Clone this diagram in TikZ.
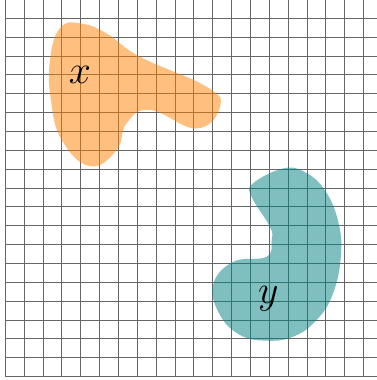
\documentclass[tikz,border=0pt]{standalone}
\usepackage{amsmath}
\usepackage{tikz}
\usetikzlibrary{positioning}

\begin{document}
\begin{tikzpicture}[scale=0.2,
    gridline/.style={black!60, line width=0.3pt},
    blob/.style={fill opacity=0.5}]
    % Frame and grid
    \clip (-0.28,-0.175) rectangle (19.7,19.97);
    \draw[gridline, step=1] (0,0) grid (21,21);

    % Set x (orange)
    \fill[blob, orange] plot[smooth cycle, tension=0.75] coordinates {
        (3.96,18.73) (5.37,18.2) (7.14,16.96) (10.67,15.37) (11.38,14.31)
        (10.14,13.16) (7.67,14.14) (6.43,13.43) (5.9,12.01) (4.49,11.16)
        (3.0,12.54) (2.42,14.66) (2.37,16.78) (2.9,18.48)};
    \node (labx) at (3.96,15.98) {\large $x$};

    % Set y (teal)
    \fill[blob, teal] plot[smooth cycle, tension=0.7] coordinates {
        (14.73,11.04) (15.88,10.85) (16.94,9.89) (17.63,8.3) (17.8,6.5)
        (17.38,4.42) (16.5,3.0) (15.26,2.12) (13.85,1.91) (12.45,2.21)
        (11.38,3.27) (11.01,4.86) (12.08,6.09) (13.85,6.36)
        (14.12,7.24) (14.03,7.95) (13.06,9.54) (13.14,10.25)};
    \node (laby) at (13.94,4.15) {\large $y$};
\end{tikzpicture}
\end{document}
